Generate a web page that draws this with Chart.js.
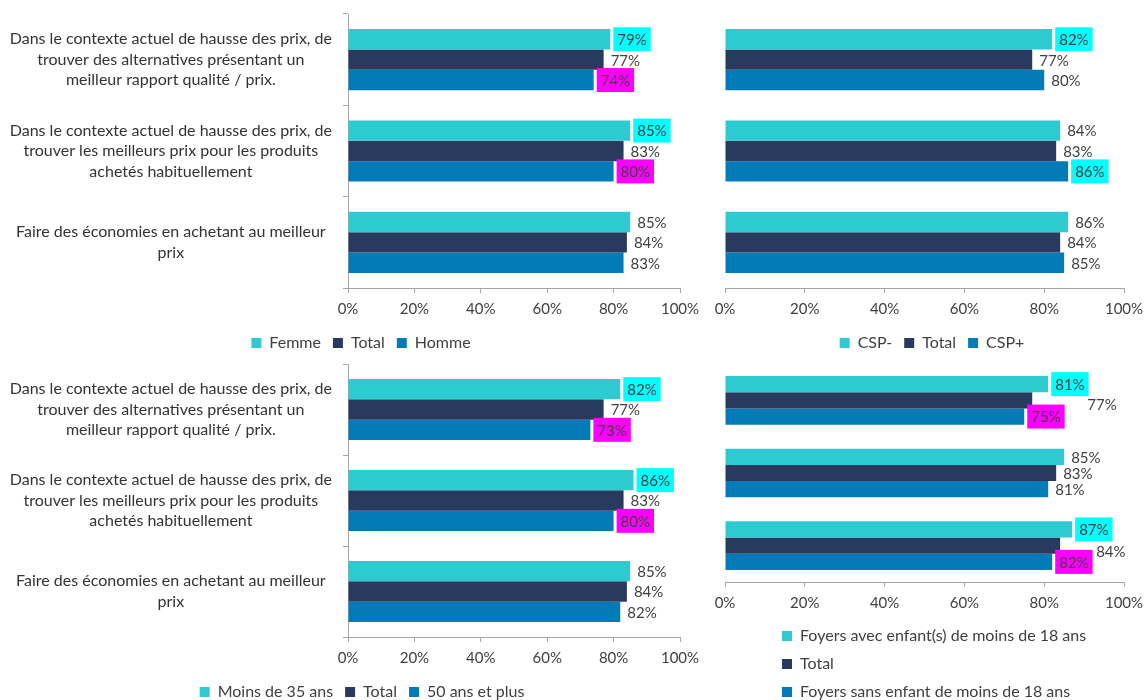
<!DOCTYPE html>
<html><head><meta charset="utf-8">
<script src="https://cdn.jsdelivr.net/npm/chart.js@4.4.1/dist/chart.umd.min.js"></script>
<style>
html,body{margin:0;padding:0;background:#fff;overflow:hidden;width:1145px;height:700px;position:relative;}
canvas{position:absolute;}
</style></head><body>
<canvas id="c1" width="730" height="360" style="left:0;top:0;width:730px;height:360px"></canvas>
<canvas id="c2" width="431" height="360" style="left:714px;top:0;width:431px;height:360px"></canvas>
<canvas id="c3" width="730" height="369" style="left:0;top:340px;width:730px;height:369px"></canvas>
<canvas id="c4" width="431" height="360" style="left:714px;top:340px;width:431px;height:360px"></canvas>
<script>
// ---- Data ----
const categories = [
  ["Dans le contexte actuel de hausse des prix, de", "trouver des alternatives présentant un", "meilleur rapport qualité / prix."],
  ["Dans le contexte actuel de hausse des prix, de", "trouver les meilleurs prix pour les produits", "achetés habituellement"],
  ["Faire des économies en achetant au meilleur", "prix"]
];
const xTicks = [0, 20, 40, 60, 80, 100];

const sexeSeries = ["Femme", "Total", "Homme"];
const sexeFemme = [79, 85, 85];
const sexeTotal = [77, 83, 84];
const sexeHomme = [74, 80, 83];

const cspSeries = ["CSP-", "Total", "CSP+"];
const cspMoins = [82, 84, 86];
const cspTotal = [77, 83, 84];
const cspPlus = [80, 86, 85];

const ageSeries = ["Moins de 35 ans", "Total", "50 ans et plus"];
const ageMoins35 = [82, 86, 85];
const ageTotal = [77, 83, 84];
const age50plus = [73, 80, 82];

const foyerSeries = ["Foyers avec enfant(s) de moins de 18 ans", "Total", "Foyers sans enfant de moins de 18 ans"];
const foyerAvec = [81, 85, 87];
const foyerTotal = [77, 83, 84];
const foyerSans = [75, 81, 82];

// highlighted value labels (c = cyan, m = magenta), per series then category
const sexeHighlight = [["c", "c", ""], ["", "", ""], ["m", "m", ""]];
const cspHighlight = [["c", "", ""], ["", "", ""], ["", "c", ""]];
const ageHighlight = [["c", "c", ""], ["", "", ""], ["m", "m", ""]];
const foyerHighlight = [["c", "", "c"], ["", "", ""], ["m", "", "m"]];
// label shifts [dx, dy] (style only)
const foyerLabelShift = [[[0,0],[0,0],[0,0]], [[48,4],[0,0],[29,5]], [[0,0],[0,0],[0,0]]];

// ---- Style ----
const COLORS = ['#2DCBD1', '#283A5E', '#047BB9'];
const AXIS = '#A6A6A6';
const TXT = '#404040';
const FONT = 'Lato, "Open Sans", sans-serif';

const valueLabels = {
  id: 'valueLabels',
  afterDatasetsDraw(chart, args, opts) {
    const ctx = chart.ctx;
    ctx.save();
    ctx.font = '15px ' + FONT;
    ctx.textBaseline = 'middle';
    ctx.textAlign = 'left';
    chart.data.datasets.forEach((ds, di) => {
      const meta = chart.getDatasetMeta(di);
      meta.data.forEach((bar, i) => {
        const txt = ds.data[i] + '%';
        const hl = (opts.highlight && opts.highlight[di][i]) || '';
        const sh = (opts.shift && opts.shift[di][i]) || [0, 0];
        const x = bar.x + 7 + sh[0];
        const y = bar.y + sh[1];
        const w = ctx.measureText(txt).width;
        if (hl) {
          ctx.fillStyle = hl === 'c' ? '#00FFFF' : '#FF00FF';
          ctx.fillRect(x - 4, y - 12, w + 8, 24);
        }
        ctx.fillStyle = TXT;
        ctx.fillText(txt, x, y + 1);
      });
    });
    ctx.restore();
  }
};

const legendPlace = {
  id: 'legendPlace',
  afterLayout(chart, args, opts) {
    const lg = chart.legend;
    if (!lg || !opts || opts.width === undefined) return;
    lg.left = opts.left; lg.right = opts.left + opts.width; lg.width = opts.width;
    lg.top = opts.top; lg.bottom = chart.height; lg.height = lg.bottom - lg.top;
  }
};

function noAutoPad(s) {
  s.paddingTop = 0; s.paddingBottom = 0; s.paddingLeft = 0; s.paddingRight = 0;
}

function makeChart(id, series, values, highlight, opt) {
  const datasets = series.map((name, k) => ({
    label: name,
    data: values[k],
    backgroundColor: COLORS[k],
    borderWidth: 0,
    categoryPercentage: 0.67,
    barPercentage: 1.0
  }));
  return new Chart(document.getElementById(id), {
    type: 'bar',
    data: { labels: categories, datasets },
    plugins: [valueLabels, legendPlace],
    options: {
      indexAxis: 'y',
      responsive: false,
      animation: false,
      events: [],
      layout: { padding: opt.padding, autoPadding: false },
      scales: {
        x: {
          type: 'linear', min: 0, max: 100,
          afterBuildTicks: (s) => { s.ticks = xTicks.map(v => ({ value: v })); },
          afterFit: (s) => { s.height = 34; noAutoPad(s); },
          ticks: { callback: v => v + '%', color: TXT, font: { size: 15, family: FONT }, padding: 7, maxRotation: 0 },
          grid: { drawOnChartArea: false, drawTicks: true, tickLength: 5, color: AXIS },
          border: { color: AXIS, width: 1 }
        },
        y: {
          display: opt.showY,
          afterFit: (s) => { if (opt.showY) s.width = 348; noAutoPad(s); },
          ticks: { color: '#333333', crossAlign: 'center', padding: 11, font: { size: 16, family: FONT, lineHeight: 1.28 } },
          grid: { drawOnChartArea: false, drawTicks: true, tickLength: 5, color: AXIS, offset: true },
          border: { color: AXIS, width: 1 }
        }
      },
      plugins: {
        tooltip: { enabled: false },
        legend: {
          position: 'bottom',
          align: opt.stack ? 'start' : 'center',
          maxHeight: 38,
          labels: { boxWidth: 10, boxHeight: 10, padding: 12, color: TXT, font: { size: 16, family: FONT } }
        },
        valueLabels: { highlight, shift: opt.shift },
        legendPlace: opt.legend
      }
    }
  });
}

makeChart('c1', sexeSeries, [sexeFemme, sexeTotal, sexeHomme], sexeHighlight,
  { showY: true, padding: { top: 14, right: 50, left: 0, bottom: 0 }, legend: { left: 0, width: 722, top: 323 } });
makeChart('c2', cspSeries, [cspMoins, cspTotal, cspPlus], cspHighlight,
  { showY: false, padding: { top: 14, right: 21, left: 11, bottom: 0 }, legend: { left: 0, width: 436, top: 323 } });
makeChart('c3', ageSeries, [ageMoins35, ageTotal, age50plus], ageHighlight,
  { showY: true, padding: { top: 24, right: 50, left: 0, bottom: 0 }, legend: { left: 0, width: 724, top: 332 } });
makeChart('c4', foyerSeries, [foyerAvec, foyerTotal, foyerSans], foyerHighlight,
  { showY: false, padding: { top: 24, right: 21, left: 11, bottom: 46 }, shift: foyerLabelShift, stack: true,
    legend: { left: 56, width: 340, top: 276 } });
</script>
</body></html>
